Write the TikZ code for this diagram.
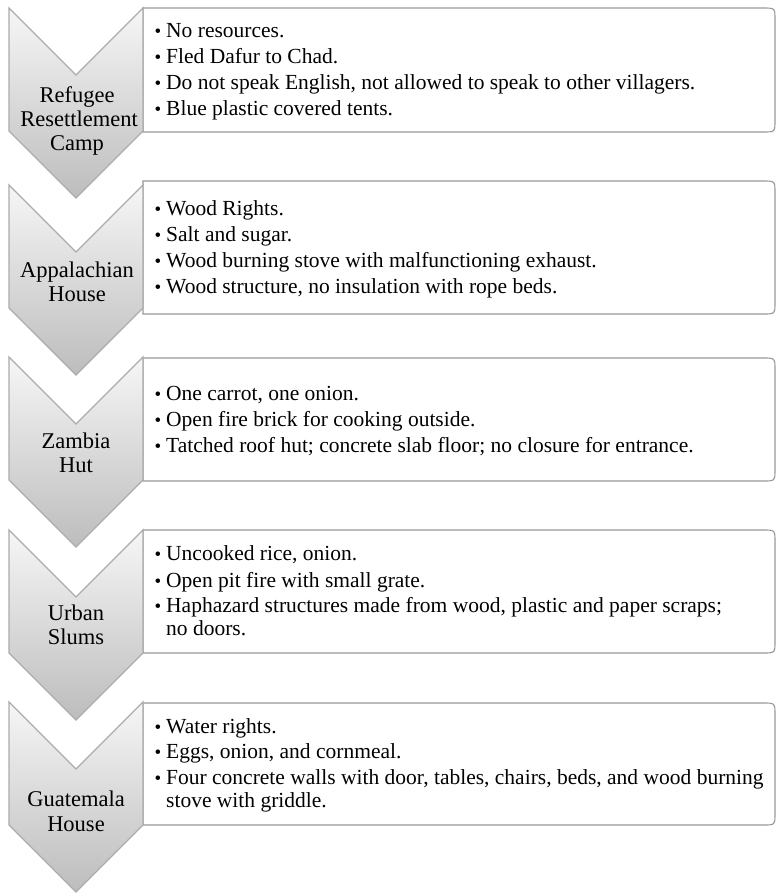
\documentclass[tikz,border=0pt]{standalone}
\usepackage{fontspec}
\setmainfont{Liberation Serif}
\newcommand{\txtfont}{\fontsize{21.5}{24}\selectfont}
\newcommand{\labfont}{\fontsize{22.5}{24}\selectfont}
\newcommand{\bul}{\makebox[11.5pt][l]{\fontsize{19}{24}\selectfont•}}
\begin{document}
\begin{tikzpicture}[x=1pt,y=-1pt,
  chev/.style={draw=gray!65, line width=1.3pt, top color=gray!7, bottom color=gray!52, line join=miter},
  infobox/.style={draw=gray!80, line width=1.1pt, fill=white},
  lab/.style={anchor=base, inner sep=0pt, font=\labfont},
  itm/.style={anchor=base west, inner sep=0pt, font=\txtfont}]
\useasboundingbox (0,0) rectangle (776,894);
\fill[white] (0,0) rectangle (776,894);

% boxes
\foreach \t/\b in {8/132,181/314,358/481,530/653,703/825}{
  \draw[infobox] (143,\t) -- (763,\t) .. controls (775,\t) .. (775,\t+12) -- (775,\b-12) .. controls (775,\b) .. (763,\b) -- (143,\b) -- cycle;
}
% chevrons
\foreach \y in {8,185,357,530,702}{
  \draw[chev] (9,\y) -- (76,\y+67) -- (143,\y) -- (143,\y+123) -- (76,\y+190) -- (9,\y+123) -- cycle;
}

% labels
\node[lab] (l1a) at (77,102) {Refugee};
\node[lab] (l1b) at (79,126) {Resettlement};
\node[lab] (l1c) at (77,150) {Camp};
\node[lab] (l2a) at (77,277) {Appalachian};
\node[lab] (l2b) at (77,301) {House};
\node[lab] (l3a) at (76,448) {Zambia};
\node[lab] (l3b) at (76,472) {Hut};
\node[lab] (l4a) at (76,620) {Urban};
\node[lab] (l4b) at (76,644) {Slums};
\node[lab] (l5a) at (76,806) {Guatemala};
\node[lab] (l5b) at (76,831) {House};

% box 1
\node[itm] (a1) at (154.5,37) {\bul No resources.};
\node[itm] (a2) at (154.5,63) {\bul Fled Dafur to Chad.};
\node[itm] (a3) at (154.5,89) {\bul Do not speak English, not allowed to speak to other villagers.};
\node[itm] (a4) at (154.5,115) {\bul Blue plastic covered tents.};
% box 2
\node[itm] (b1) at (154.5,215) {\bul Wood Rights.};
\node[itm] (b2) at (154.5,241) {\bul Salt and sugar.};
\node[itm] (b3) at (154.5,267) {\bul Wood burning stove with malfunctioning exhaust.};
\node[itm] (b4) at (154.5,293) {\bul Wood structure, no insulation with rope beds.};
% box 3
\node[itm] (c1) at (154.5,400) {\bul One carrot, one onion.};
\node[itm] (c2) at (154.5,426) {\bul Open fire brick for cooking outside.};
\node[itm] (c3) at (154.5,452) {\bul Tatched roof hut; concrete slab floor; no closure for entrance.};
% box 4
\node[itm] (d1) at (154.5,560) {\bul Uncooked rice, onion.};
\node[itm] (d2) at (154.5,587) {\bul Open pit fire with small grate.};
\node[itm] (d3) at (154.5,612) {\bul Haphazard structures made from wood, plastic and paper scraps;};
\node[itm] (d4) at (166,635) {no doors.};
% box 5
\node[itm] (e1) at (154.5,733) {\bul Water rights.};
\node[itm] (e2) at (154.5,758) {\bul Eggs, onion, and cornmeal.};
\node[itm] (e3) at (154.5,784) {\bul Four concrete walls with door, tables, chairs, beds, and wood burning};
\node[itm] (e4) at (166,807) {stove with griddle.};
\end{tikzpicture}
\end{document}
